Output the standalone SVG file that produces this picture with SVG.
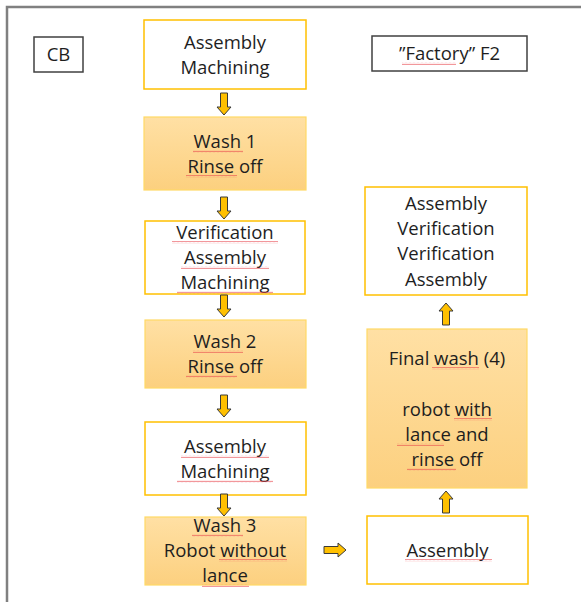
<svg xmlns="http://www.w3.org/2000/svg" width="581" height="602" viewBox="0 0 581 602">
  <style>
    .frame { fill: none; stroke: #808080; stroke-width: 2.5; }
    .label { fill: #ffffff; stroke: #404040; stroke-width: 1.5; }
    .step { fill: #ffffff; stroke: #FFC000; stroke-width: 1.5; }
    .wash { fill: url(#washFill); stroke: #FFD966; stroke-width: 1.2; }
    text { font-family: "Open Sans", "Liberation Sans", sans-serif; font-size: 18.5px; fill: #1e1e1e; text-anchor: middle; }
    .arrow { fill: #FFC000; stroke: #3a3a3a; stroke-width: 1; stroke-linejoin: miter; }
    .spell { fill: url(#squiggle); }
  </style>
  <defs>
    <linearGradient id="washFill" x1="0" y1="0" x2="0" y2="1">
      <stop offset="0" stop-color="#FFE0A4"/>
      <stop offset="1" stop-color="#FCD07F"/>
    </linearGradient>
    <pattern id="squiggle" width="4" height="3" patternUnits="userSpaceOnUse">
      <path d="M0 2.2 L1 0.8 L2 2.2 L3 0.8 L4 2.2" fill="none" stroke="#E8424A" stroke-width="0.7" opacity="0.8"/>
    </pattern>
    <!-- block arrow pointing down, 22 px long from its origin -->
    <path id="arrowDown" d="M-3.5 0 H3.5 V14 H7 L0 22 L-7 14 H-3.5 Z"/>
  </defs>

  <!-- outer frame -->
  <rect class="frame" x="7" y="7" width="620" height="640"/>

  <g id="cb">
    <rect class="label" x="34" y="37" width="49" height="35"/>
    <text x="58.5" y="61">CB</text>
  </g>

  <g id="factory-f2">
    <rect class="label" x="372" y="36" width="155" height="35"/>
    <text x="449.5" y="60">”Factory” F2</text>
    <rect class="spell" x="402" y="62" width="54" height="3"/>
  </g>

  <g id="assembly-machining-1">
    <rect class="step" x="144" y="20" width="162" height="69"/>
    <text x="225" y="49">Assembly</text>
    <text x="225" y="74">Machining</text>
  </g>

  <g id="wash-1">
    <rect class="wash" x="144" y="117" width="162" height="73"/>
    <text x="225" y="148">Wash 1</text>
    <text x="225" y="173">Rinse off</text>
    <rect class="spell" x="193" y="150" width="50" height="3"/>
    <rect class="spell" x="186" y="175" width="51" height="3"/>
  </g>

  <g id="verification-assembly-machining">
    <rect class="step" x="145" y="221" width="160" height="73"/>
    <text x="225" y="239">Verification</text>
    <text x="225" y="264">Assembly</text>
    <text x="225" y="289">Machining</text>
    <rect class="spell" x="172" y="241" width="106" height="3"/>
    <rect class="spell" x="181" y="266" width="88" height="3"/>
    <rect class="spell" x="177" y="291" width="96" height="3"/>
  </g>

  <g id="wash-2">
    <rect class="wash" x="145" y="320" width="161" height="68"/>
    <text x="225" y="348">Wash 2</text>
    <text x="225" y="373">Rinse off</text>
    <rect class="spell" x="193" y="350" width="50" height="3"/>
    <rect class="spell" x="186" y="375" width="51" height="3"/>
  </g>

  <g id="assembly-machining-2">
    <rect class="step" x="145" y="422" width="161" height="73"/>
    <text x="225" y="453">Assembly</text>
    <text x="225" y="478">Machining</text>
    <rect class="spell" x="181" y="455" width="88" height="3"/>
    <rect class="spell" x="177" y="480" width="96" height="3"/>
  </g>

  <g id="wash-3">
    <rect class="wash" x="145" y="517" width="161" height="68"/>
    <text x="225" y="532">Wash 3</text>
    <text x="225" y="557">Robot without</text>
    <text x="225" y="582">lance</text>
    <rect class="spell" x="192" y="534" width="51" height="3"/>
    <rect class="spell" x="219" y="559" width="68" height="3"/>
    <rect class="spell" x="202" y="584" width="47" height="3"/>
  </g>

  <g id="assembly-f2">
    <rect class="step" x="367" y="516" width="161" height="68"/>
    <text x="447.5" y="557">Assembly</text>
    <rect class="spell" x="405" y="559" width="87" height="3"/>
  </g>

  <g id="final-wash">
    <rect class="wash" x="367" y="329" width="160" height="159"/>
    <text x="447" y="365">Final wash (4)</text>
    <text x="447" y="416">robot with</text>
    <text x="447" y="441">lance and</text>
    <text x="447" y="466">rinse off</text>
    <rect class="spell" x="432" y="367" width="47" height="3"/>
    <rect class="spell" x="454" y="418" width="38" height="3"/>
    <rect class="spell" x="397" y="443" width="47" height="3"/>
    <rect class="spell" x="407" y="468" width="49" height="3"/>
  </g>

  <g id="assembly-verification-f2">
    <rect class="step" x="365" y="187" width="162" height="108"/>
    <text x="446" y="210">Assembly</text>
    <text x="446" y="235">Verification</text>
    <text x="446" y="260">Verification</text>
    <text x="446" y="286">Assembly</text>
  </g>

  <g id="connectors">
    <use href="#arrowDown" class="arrow" x="224" y="93"/>
    <use href="#arrowDown" class="arrow" x="224" y="197"/>
    <use href="#arrowDown" class="arrow" x="224" y="295"/>
    <use href="#arrowDown" class="arrow" x="224" y="395"/>
    <use href="#arrowDown" class="arrow" x="224" y="494"/>
    <!-- Wash 3 to Assembly in F2 -->
    <use href="#arrowDown" class="arrow" transform="translate(324 550) rotate(-90)"/>
    <!-- upward flow on the F2 side -->
    <use href="#arrowDown" class="arrow" transform="translate(446 513) rotate(180)"/>
    <use href="#arrowDown" class="arrow" transform="translate(446 325) rotate(180)"/>
  </g>
</svg>
